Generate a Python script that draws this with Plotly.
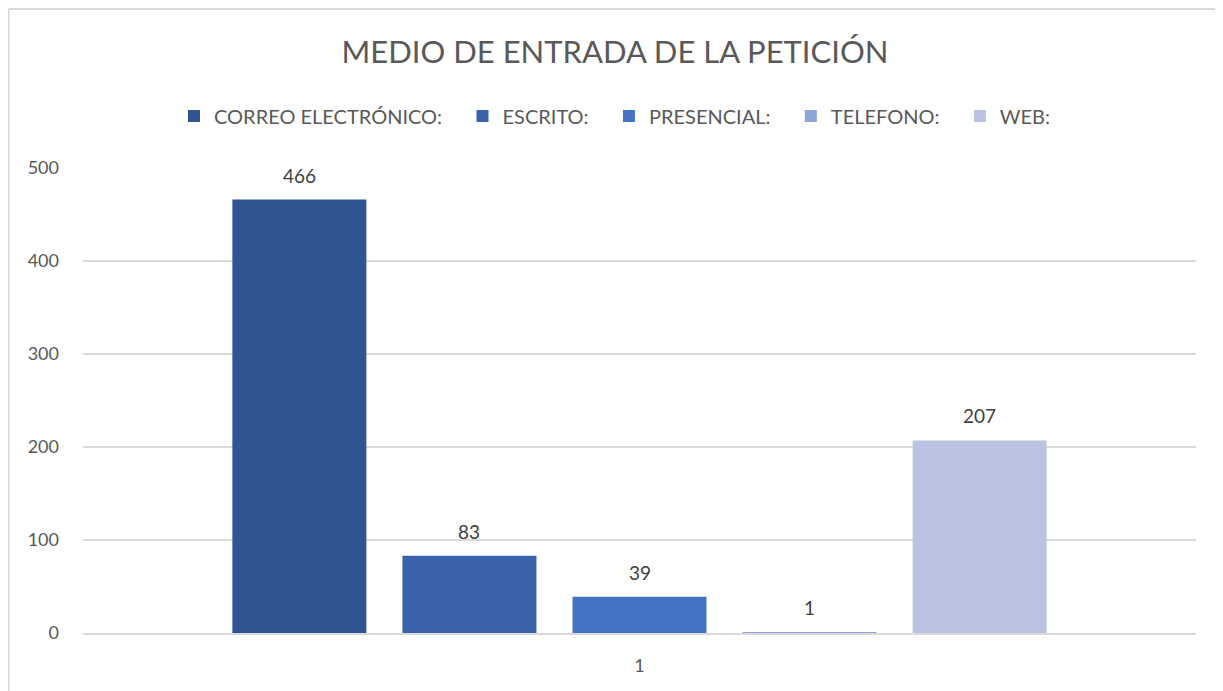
import plotly.graph_objects as go

# datos
categoria = ["1"]
series = ["CORREO ELECTRÓNICO:", "ESCRITO:", "PRESENCIAL:", "TELEFONO:", "WEB:"]
valores = [466, 83, 39, 1, 207]
colores = ["#30548F", "#3962AA", "#4472C4", "#8FA5D6", "#BAC4E2"]
ticks_y = [0, 100, 200, 300, 400, 500]

W, H = 1223, 691
ML, MR, MT, MB = 75, 35, 160, 66   # la página tiene 8px de margen en el body
BARGAP = 0.236

fig = go.Figure()
n = len(series)
for i, (nombre, v, c) in enumerate(zip(series, valores, colores)):
    # un poco de aire entre entradas de la leyenda, como en Excel
    etiqueta = nombre + ("\u00a0" * 3 if i < n - 1 else "")
    fig.add_trace(go.Bar(
        x=categoria, y=[v], name=etiqueta,
        marker=dict(color=c, line=dict(width=0)),
        hovertemplate=nombre + " %{y}<extra></extra>",
    ))

# etiquetas de datos encima de cada barra
# (en un eje de categorías la anotación va por índice: 0 = primera categoría)
ancho_slot = (W - ML - MR) * (1 - BARGAP) / n
for i, v in enumerate(valores):
    fig.add_annotation(x=0, y=v, xref="x", yref="y",
                       text=str(v), showarrow=False, yanchor="bottom",
                       xshift=(i - (n - 1) / 2) * ancho_slot, yshift=11,
                       font=dict(size=19, color="#404040", family="Lato"))

gris = "#595959"
fig.update_layout(
    width=W, height=H,
    paper_bgcolor="white", plot_bgcolor="white",
    margin=dict(l=ML, r=MR, t=MT, b=MB),
    barmode="group", bargap=BARGAP, bargroupgap=0.212,
    font=dict(family="Lato", color=gris, size=18),
    title=dict(text="MEDIO DE ENTRADA DE LA PETICIÓN",
               x=(615 - 8) / W, xanchor="center",
               y=1 - 44 / H, yanchor="middle",
               font=dict(size=31, color=gris, family="Lato")),
    legend=dict(orientation="h", x=0.478, xanchor="center",
                y=1.112, yanchor="middle", font=dict(size=20, color=gris),
                itemwidth=30, traceorder="normal"),
    showlegend=True,
)
fig.update_yaxes(range=[0, 500], tickvals=ticks_y, showgrid=True,
                 gridcolor="#D9D9D9", gridwidth=1.5, zeroline=False,
                 showline=False, ticks="", ticklabelstandoff=23,
                 tickfont=dict(size=18, color=gris))
fig.update_xaxes(type="category", range=[-0.5, 0.5], showline=True,
                 linecolor="#D9D9D9", linewidth=2, ticks="",
                 tickfont=dict(size=18, color=gris), ticklabelstandoff=15)

# borde del gráfico
fig.add_shape(type="line", xref="paper", yref="paper",
              x0=-0.0669, x1=1.2, y0=1.342, y1=1.342,
              line=dict(color="#D9D9D9", width=2))
fig.add_shape(type="line", xref="paper", yref="paper",
              x0=-0.0669, x1=-0.0669, y0=1.342, y1=-0.3,
              line=dict(color="#D9D9D9", width=2))

fig.write_html("out.html")
